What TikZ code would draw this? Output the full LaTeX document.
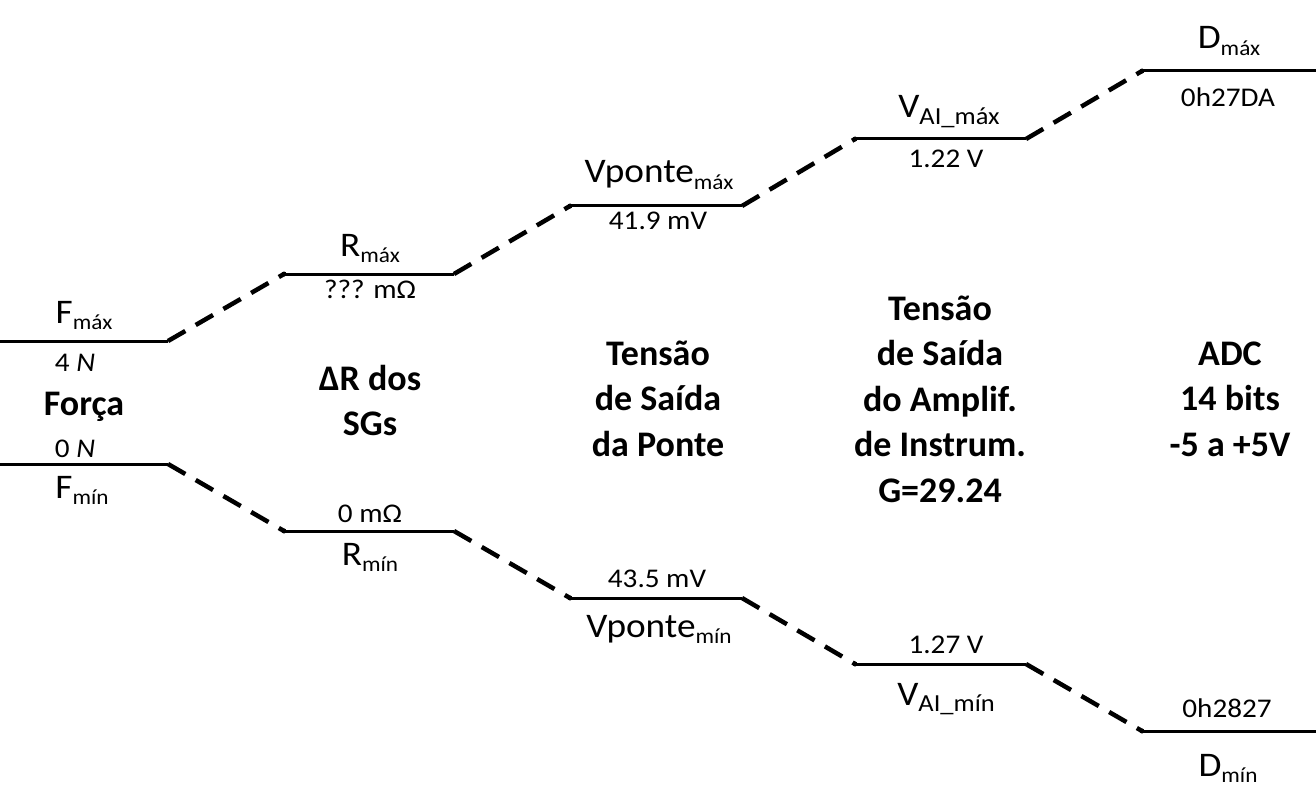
\documentclass[tikz,border=0pt]{standalone}
\usepackage{fontspec}
\setmainfont{Carlito}[FakeStretch=1.08]
\newfontfamily\boldfam{Carlito}
\newcommand{\lvsub}[2][21.5]{\raisebox{-6.5pt}{\fontsize{#1}{#1}\selectfont #2}}
\begin{document}
\begin{tikzpicture}[x=1pt,y=-1pt,
  level/.style={line width=3pt},
  conn/.style={line width=4.5pt,dash pattern=on 20pt off 12pt},
  enddot/.style={circle,fill=black,inner sep=0pt,minimum size=5pt},
  lbl/.style={anchor=base,inner sep=0pt,font=\fontsize{34.5}{40}\selectfont},
  val/.style={anchor=base,inner sep=0pt,font=\fontsize{27}{32}\selectfont},
  title/.style={anchor=base,inner sep=0pt,font=\boldfam\fontsize{36}{45.5}\selectfont\bfseries}]
\useasboundingbox (0,0) rectangle (1316,802);
% level end points
\coordinate (fmaxL) at (0,341);   \coordinate (fmaxR) at (168,341);
\coordinate (fminL) at (0,464);   \coordinate (fminR) at (168,464);
\coordinate (rmaxL) at (284,274); \coordinate (rmaxR) at (454,274);
\coordinate (rminL) at (284,531); \coordinate (rminR) at (454,531);
\coordinate (vmaxL) at (570,206); \coordinate (vmaxR) at (742,206);
\coordinate (vminL) at (570,598); \coordinate (vminR) at (742,598);
\coordinate (amaxL) at (855,139); \coordinate (amaxR) at (1026,139);
\coordinate (aminL) at (855,664); \coordinate (aminR) at (1026,664);
\coordinate (dmaxL) at (1142,71); \coordinate (dmaxR) at (1316,71);
\coordinate (dminL) at (1142,731);\coordinate (dminR) at (1316,731);
% levels
\foreach \n in {fmax,fmin,rmax,rmin,vmax,vmin,amax,amin,dmax,dmin}{
  \draw[level] (\n L) -- (\n R);
}
\foreach \n in {rmax,rmin,vmax,vmin,amax,amin,dmax,dmin}{
  \node[enddot] at (\n L) {};
}
% connectors
\draw[conn] (fmaxR) -- (rmaxL);
\draw[conn] (rmaxR) -- (vmaxL);
\draw[conn] (vmaxR) -- (amaxL);
\draw[conn] (amaxR) -- (dmaxL);
\draw[conn] (fminR) -- (rminL);
\draw[conn] (rminR) -- (vminL);
\draw[conn] (vminR) -- (aminL);
\draw[conn] (aminR) -- (dminL);
% Force column
\node[lbl] (tfmax) at (84,323) {F\lvsub{máx}};
\node[val] (vfmax) at (75,371) {4 \textit{N}};
\node[title] (tforca) at (84,415) {Força};
\node[val] (vfmin) at (75,457) {0 \textit{N}};
\node[lbl] (tfmin) at (82,498) {F\lvsub{mín}};
% R column
\node[lbl] (trmax) at (370,256) {R\lvsub{máx}};
\node[val] (vrmax) at (370,298) {??? mΩ};
\node[title,anchor=base] (trcol) at (370,390) {\begin{tabular}[t]{@{}c@{}}ΔR dos\\SGs\end{tabular}};
\node[val] (vrmin) at (370,522) {0 mΩ};
\node[lbl] (trmin) at (370,565) {R\lvsub{mín}};
% Vponte column
\node[lbl] (tvmax) at (659,183) {Vponte\lvsub{máx}};
\node[val] (vvmax) at (658,230) {41.9 mV};
\node[title] (tvcol) at (658,365) {\begin{tabular}[t]{@{}c@{}}Tensão\\de Saída\\da Ponte\end{tabular}};
\node[val] (vvmin) at (657,587) {43.5 mV};
\node[lbl] (tvmin) at (659,637) {Vponte\lvsub{mín}};
% VAI column
\node[lbl] (tamax) at (949,118) {V\lvsub[24.5]{AI\_máx}};
\node[val] (vamax) at (946,168) {1.22 V};
\node[title] (tacol) at (940,320) {\begin{tabular}[t]{@{}c@{}}Tensão\\de Saída\\do Amplif.\\de Instrum.\\G=29.24\end{tabular}};
\node[val] (vamin) at (946,653) {1.27 V};
\node[lbl] (tamin) at (946,705) {V\lvsub[24.5]{AI\_mín}};
% D column
\node[lbl] (tdmax) at (1229,49) {D\lvsub{máx}};
\node[val] (vdmax) at (1228,107) {0h27DA};
\node[title] (tdcol) at (1230,365) {\begin{tabular}[t]{@{}c@{}}ADC\\14 bits\\-5 a +5V\end{tabular}};
\node[val] (vdmin) at (1227,717) {0h2827};
\node[lbl] (tdmin) at (1228,776) {D\lvsub{mín}};
\end{tikzpicture}
\end{document}
